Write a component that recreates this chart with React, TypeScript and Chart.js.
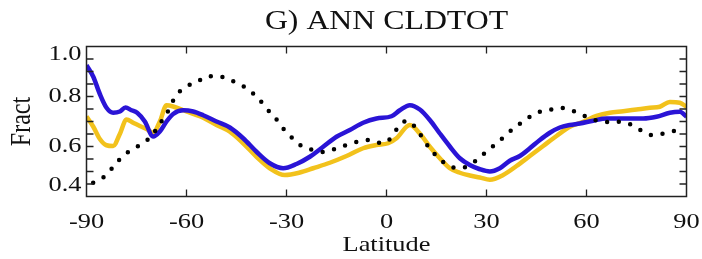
import React, { useEffect, useRef } from "react";
import { Chart, registerables } from "chart.js";

Chart.register(...registerables);

const TITLE = "G) ANN CLDTOT";
const X_TITLE = "Latitude";
const Y_TITLE = "Fract";

const X_MIN = -90;
const X_MAX = 90;
const Y_MIN = 0.4;
const Y_MAX = 1.0;
const X_STEP = 30;
const X_INNER_TICKS = [-60, -30, 0, 30, 60];
const Y_LABEL_VALUES = [0.4, 0.6, 0.8, 1.0];
const Y_LABEL_TEXT = ["0.4", "0.6", "0.8", "1.0"];
const Y_MINOR_TICKS = [0.45, 0.5, 0.55, 0.6, 0.65, 0.7, 0.75, 0.8, 0.85, 0.9, 0.95];

// Blue model
const blueLat = [
  -90, -88, -86, -84, -82, -80, -78.3, -76.5, -74.8, -72.5, -70, -68, -66, -64, -61, -58, -55, -51,
  -47, -43, -39, -35, -31, -27, -23, -19, -15, -11, -7, -3, 1.5, 4, 7, 10, 13, 16, 19, 22, 25, 28,
  31, 34, 37, 40, 43, 46, 49, 52, 55, 58, 62, 66, 71, 77, 81, 85, 88, 90,
];
const blueVal = [
  0.925, 0.88, 0.81, 0.755, 0.735, 0.74, 0.756, 0.745, 0.735, 0.7, 0.64, 0.66, 0.7, 0.73, 0.745, 0.74,
  0.725, 0.7, 0.676, 0.633, 0.579, 0.533, 0.513, 0.53, 0.559, 0.599, 0.639, 0.666, 0.695, 0.712,
  0.721, 0.745, 0.765, 0.748, 0.706, 0.652, 0.6, 0.553, 0.526, 0.509, 0.5, 0.513, 0.543, 0.562,
  0.593, 0.626, 0.655, 0.676, 0.686, 0.692, 0.703, 0.712, 0.712, 0.712, 0.719, 0.735, 0.739, 0.719,
];

// Yellow model
const yellowLat = [
  -90, -88, -86, -84, -82, -80, -78, -76, -74, -72, -70, -68, -66, -64, -61, -58, -55, -51, -47,
  -43, -39, -35, -30.5, -26, -22, -17, -12, -7, -3, 0.5, 3, 7, 10, 13, 16, 19, 22, 25, 28, 31, 35,
  39, 43, 47, 51, 55, 59, 63, 67, 71, 75, 79, 82, 85, 88, 90,
];
const yellowVal = [
  0.72, 0.68, 0.63, 0.605, 0.602, 0.65, 0.708, 0.695, 0.682, 0.67, 0.655, 0.7, 0.765, 0.76, 0.745,
  0.73, 0.715, 0.686, 0.659, 0.613, 0.559, 0.513, 0.486, 0.496, 0.513, 0.535, 0.562, 0.593, 0.606,
  0.613, 0.633, 0.686, 0.652, 0.599, 0.553, 0.513, 0.495, 0.484, 0.476, 0.467, 0.486, 0.522, 0.562,
  0.602, 0.642, 0.679, 0.699, 0.722, 0.735, 0.741, 0.748, 0.755, 0.759, 0.778, 0.775, 0.759,
];

// Observations (dotted)
const obsLat = [
  -88, -84, -81.8, -79.3, -75.8, -73, -70.3, -67.8, -65.8, -63.3, -60.3, -56.8, -53.8, -50.4, -46.9,
  -43.5, -40.5, -38, -35.5, -33, -31, -28.5, -25.5, -22, -19, -15.2, -12, -8.6, -5.1, -1.3, 1.7,
  3.7, 6.4, 8.9, 10.9, 12.9, 15.4, 18.3, 21.6, 25, 28, 30.8, 33.6, 36.3, 39.1, 41.9, 45.2, 48.5, 52,
  55.5, 58.9, 62.4, 65.8, 69.4, 72.9, 76.1, 79.4, 83.1, 86.6,
];
const obsVal = [
  0.455, 0.486, 0.522, 0.559, 0.593, 0.613, 0.646, 0.695, 0.735, 0.8, 0.838, 0.858, 0.881, 0.881,
  0.866, 0.845, 0.818, 0.785, 0.745, 0.708, 0.672, 0.637, 0.602, 0.586, 0.578, 0.591, 0.606, 0.619,
  0.626, 0.613, 0.639, 0.682, 0.703, 0.672, 0.633, 0.593, 0.557, 0.526, 0.513, 0.526, 0.557, 0.589,
  0.619, 0.652, 0.682, 0.709, 0.736, 0.745, 0.755, 0.745, 0.725, 0.706, 0.698, 0.699, 0.69, 0.666,
  0.646, 0.652, 0.663,
];

const FONT = "'Liberation Serif', 'Times New Roman', serif";
const TEXT_COLOR = "#111";
const TEXT_STRETCH = 1.2;

const toPoints = (xs: number[], ys: number[]) => xs.map((x, i) => ({ x, y: ys[i] }));

const framePlugin = {
  id: "frameTicks",
  afterDatasetsDraw(chart: any) {
    const { ctx, chartArea } = chart;
    const { left, right, top, bottom } = chartArea;
    const xs = chart.scales.x;
    const ys = chart.scales.y;
    ctx.save();
    ctx.strokeStyle = "#222";
    ctx.lineWidth = 1.5;
    ctx.strokeRect(left, top, right - left, bottom - top);
    ctx.lineWidth = 1.3;
    ctx.beginPath();
    const tl = 7;
    X_INNER_TICKS.forEach((v) => {
      const px = xs.getPixelForValue(v);
      ctx.moveTo(px, bottom);
      ctx.lineTo(px, bottom - tl);
      ctx.moveTo(px, top);
      ctx.lineTo(px, top + tl);
    });
    Y_MINOR_TICKS.forEach((v) => {
      const py = ys.getPixelForValue(v);
      ctx.moveTo(left, py);
      ctx.lineTo(left + tl, py);
      ctx.moveTo(right, py);
      ctx.lineTo(right - tl, py);
    });
    ctx.stroke();
    // y tick labels
    ctx.fillStyle = TEXT_COLOR;
    ctx.font = `22px ${FONT}`;
    ctx.textAlign = "right";
    ctx.textBaseline = "middle";
    Y_LABEL_VALUES.forEach((v, i) => {
      const py = ys.getPixelForValue(v);
      const c = Math.min(Math.max(py, top + 8), bottom - 11);
      ctx.fillText(Y_LABEL_TEXT[i], left - 5, c);
    });
    ctx.restore();
  },
};

export default function App() {
  const ref = useRef<HTMLCanvasElement | null>(null);
  useEffect(() => {
    document.body.style.margin = "0";
    document.body.style.overflow = "hidden";
    const canvas = ref.current;
    if (!canvas) return;
    const ctx = canvas.getContext("2d") as CanvasRenderingContext2D;
    const origFill = ctx.fillText.bind(ctx);
    (ctx as any).fillText = (text: string, x: number, y: number, maxWidth?: number) => {
      const T = ctx.getTransform();
      const p = T.transformPoint(new DOMPoint(x, y));
      const M = new DOMMatrix()
        .translate(p.x, p.y)
        .scale(TEXT_STRETCH, 1)
        .translate(-p.x, -p.y)
        .multiply(T);
      ctx.setTransform(M);
      if (maxWidth === undefined || maxWidth === null) origFill(text, x, y);
      else origFill(text, x, y, maxWidth);
      ctx.setTransform(T);
    };
    const chart = new Chart(canvas, {
      type: "line",
      data: {
        datasets: [
          {
            label: "Observed",
            data: toPoints(obsLat, obsVal),
            borderColor: "#000",
            borderWidth: 4.5,
            borderDash: [0, 11.7],
            borderCapStyle: "round",
            pointRadius: 0,
            cubicInterpolationMode: "monotone",
            order: 0,
          },
          {
            label: "Model B",
            data: toPoints(blueLat, blueVal),
            borderColor: "#2a14d6",
            borderWidth: 4.5,
            pointRadius: 0,
            cubicInterpolationMode: "monotone",
            order: 1,
          },
          {
            label: "Model A",
            data: toPoints(yellowLat, yellowVal),
            borderColor: "#f2c21c",
            borderWidth: 4.5,
            pointRadius: 0,
            cubicInterpolationMode: "monotone",
            order: 2,
          },
        ],
      },
      options: {
        responsive: false,
        animation: false,
        events: [],
        layout: { padding: { left: 0, right: 2, top: 0, bottom: 0 } },
        plugins: {
          legend: { display: false },
          tooltip: { enabled: false },
          title: {
            display: true,
            text: TITLE,
            fullSize: false,
            color: TEXT_COLOR,
            font: { family: FONT, size: 26.5, weight: "normal", lineHeight: 1.2 },
            padding: { top: 6, bottom: 8.7 },
          },
        },
        scales: {
          x: {
            type: "linear",
            min: X_MIN,
            max: X_MAX,
            grid: { display: false },
            border: { display: false },
            ticks: {
              stepSize: X_STEP,
              autoSkip: false,
              maxRotation: 0,
              padding: 4.5,
              color: TEXT_COLOR,
              font: { family: FONT, size: 22 },
            },
            title: {
              display: true,
              text: X_TITLE,
              color: TEXT_COLOR,
              font: { family: FONT, size: 22, lineHeight: 1.2 },
              padding: { top: 0, bottom: 1 },
            },
            afterFit: (s: any) => {
              s.height = 62.5;
            },
          },
          y: {
            type: "linear",
            min: Y_MIN,
            max: Y_MAX,
            grid: { display: false },
            border: { display: false },
            ticks: { display: false },
            title: {
              display: true,
              text: Y_TITLE,
              color: TEXT_COLOR,
              font: { family: FONT, size: 24, lineHeight: 1.2 },
              padding: { top: 7.6, bottom: 0 },
            },
            afterFit: (s: any) => {
              s.width = 86.5;
            },
          },
        },
      },
      plugins: [framePlugin],
    });
    return () => {
      chart.destroy();
      (ctx as any).fillText = origFill;
    };
  }, []);
  return (
    <div style={{ width: 702, height: 259 }}>
      <canvas ref={ref} width={702} height={259} style={{ display: "block" }} />
    </div>
  );
}
